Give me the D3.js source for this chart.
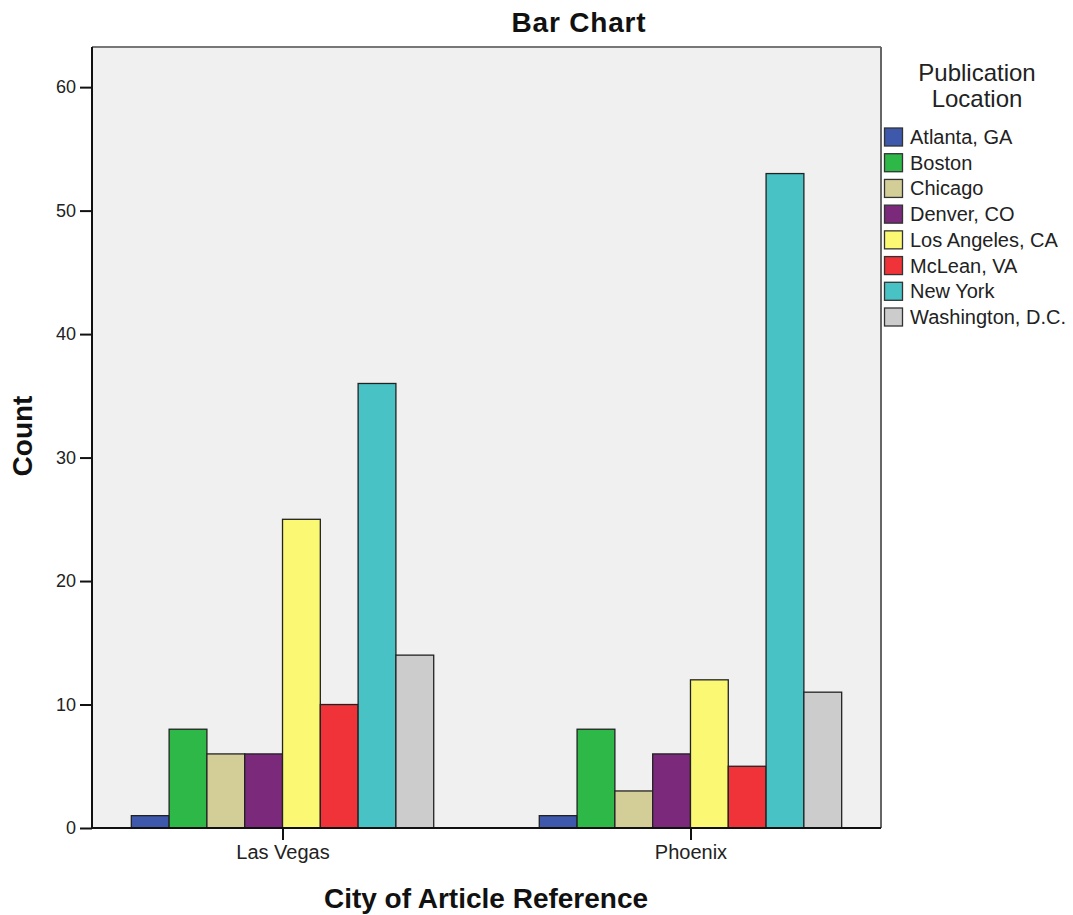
<!DOCTYPE html>
<html><head><meta charset="utf-8">
<script src="https://cdn.jsdelivr.net/npm/d3@7/dist/d3.min.js"></script>
<style>body{margin:0;background:#fff}svg{display:block}text{font-family:"Liberation Sans",Arial,sans-serif}</style>
</head><body>
<svg id="c" width="1073" height="915"></svg>
<script>
const categories = ["Las Vegas", "Phoenix"];
const seriesNames = ["Atlanta, GA","Boston","Chicago","Denver, CO","Los Angeles, CA","McLean, VA","New York","Washington, D.C."];
const lasVegas = [1, 8, 6, 6, 25, 10, 36, 14];
const phoenix = [1, 8, 3, 6, 12, 5, 53, 11];
const colors = ["#3E58AC","#2EB848","#D3CE97","#7B2A7B","#FBF873","#EF3338","#48C2C5","#CCCCCC"];
const yTicks = [0,10,20,30,40,50,60];
const values = [lasVegas, phoenix];

const svg = d3.select("#c");
const L=92, R=881, T=47, B=828;
const y = d3.scaleLinear().domain([0,63.25]).range([B,T]);
const x = d3.scalePoint().domain(categories).range([L,R]).padding(0.467);
const barW = 37.8;
const xs = d3.scaleBand().domain(seriesNames).range([-4*barW, 4*barW]).padding(0);

svg.append("rect").attr("x",L).attr("y",T).attr("width",R-L).attr("height",B-T).attr("fill","#F0F0F0");

const g = svg.append("g");
categories.forEach((c,ci)=>{
  seriesNames.forEach((s,si)=>{
    const v = values[ci][si];
    g.append("rect")
      .attr("x", x(c)+xs(s)).attr("y", y(v))
      .attr("width", xs.bandwidth()).attr("height", y(0)-y(v))
      .attr("fill", colors[si]).attr("stroke","#222").attr("stroke-width",1.3);
  });
});

svg.append("line").attr("x1",L).attr("x2",R).attr("y1",T).attr("y2",T).attr("stroke","#777").attr("stroke-width",2);
svg.append("line").attr("x1",R).attr("x2",R).attr("y1",T).attr("y2",B).attr("stroke","#666").attr("stroke-width",2);

const yAxis = svg.append("g").attr("transform",`translate(${L},0)`)
  .call(d3.axisLeft(y).tickValues(yTicks).tickSize(12).tickPadding(4));
yAxis.select(".domain").attr("d",`M0,${B}V${T}`).attr("stroke","#111").attr("stroke-width",2);
yAxis.selectAll(".tick line").attr("stroke","#111").attr("stroke-width",2);
yAxis.selectAll("text").attr("font-size",18).attr("fill","#222").attr("font-family","Liberation Sans, Arial, sans-serif");

const xAxis = svg.append("g").attr("transform",`translate(0,${B})`)
  .call(d3.axisBottom(x).tickSize(12).tickPadding(5));
xAxis.select(".domain").attr("d",`M${L},0H${R}`).attr("stroke","#111").attr("stroke-width",2);
xAxis.selectAll(".tick line").attr("stroke","#111").attr("stroke-width",2);
xAxis.selectAll("text").attr("font-size",20).attr("fill","#222").attr("font-family","Liberation Sans, Arial, sans-serif");

svg.append("text").attr("x",579).attr("y",32).attr("text-anchor","middle")
  .attr("font-size",28).attr("font-weight","bold").attr("letter-spacing",0.8).attr("fill","#111").text("Bar Chart");
svg.append("text").attr("x",486).attr("y",908).attr("text-anchor","middle")
  .attr("font-size",28).attr("font-weight","bold").attr("fill","#111").text("City of Article Reference");
svg.append("text").attr("transform","translate(32,436) rotate(-90)").attr("text-anchor","middle")
  .attr("font-size",28).attr("font-weight","bold").attr("fill","#111").text("Count");

const lg = svg.append("g");
lg.append("text").attr("x",977).attr("y",81).attr("text-anchor","middle").attr("font-size",24).attr("fill","#222").text("Publication");
lg.append("text").attr("x",977).attr("y",107).attr("text-anchor","middle").attr("font-size",24).attr("fill","#222").text("Location");
const ly = d3.scalePoint().domain(seriesNames).range([137,317]);
seriesNames.forEach((s,i)=>{
  lg.append("rect").attr("x",884.5).attr("y",ly(s)-9).attr("width",18).attr("height",18)
    .attr("fill",colors[i]).attr("stroke","#333").attr("stroke-width",1.3);
  lg.append("text").attr("x",910).attr("y",ly(s)+7).attr("font-size",20).attr("fill","#222").text(s);
});
</script>
</body></html>
